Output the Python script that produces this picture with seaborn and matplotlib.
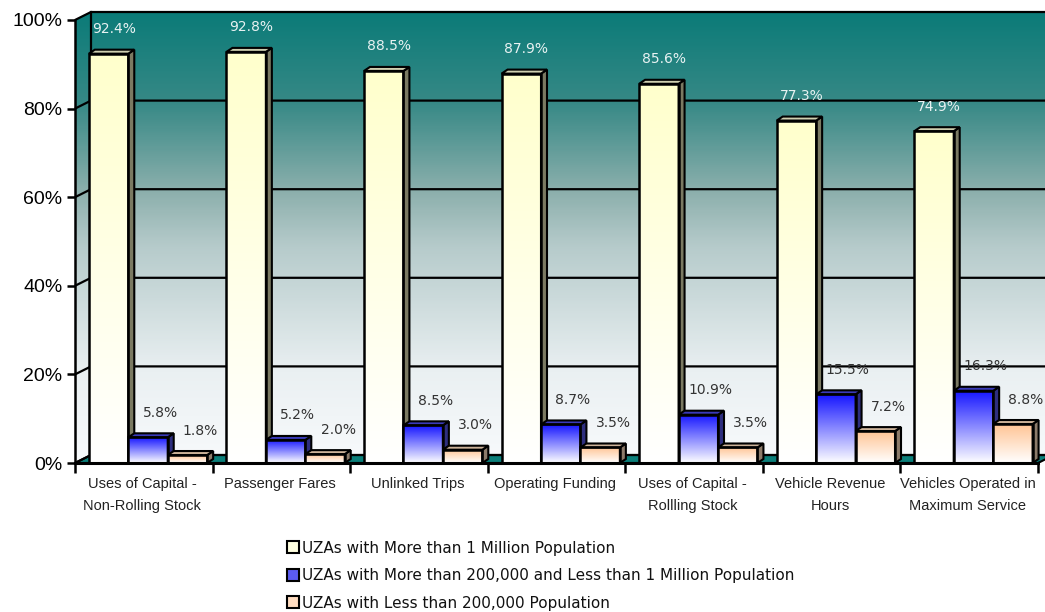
import numpy as np
import pandas as pd
import matplotlib
matplotlib.use("Agg")
import matplotlib.pyplot as plt
import seaborn as sns
from matplotlib.patches import Polygon, Patch
from matplotlib.colors import LinearSegmentedColormap, to_rgba

# ---------------- data ----------------
categories = [
    "Uses of Capital -\nNon-Rolling Stock",
    "Passenger Fares",
    "Unlinked Trips",
    "Operating Funding",
    "Uses of Capital -\nRollling Stock",
    "Vehicle Revenue\nHours",
    "Vehicles Operated in\nMaximum Service",
]
series = [
    "UZAs with More than 1 Million Population",
    "UZAs with More than 200,000 and Less than 1 Million Population",
    "UZAs with Less than 200,000 Population",
]
large_uza = [92.4, 92.8, 88.5, 87.9, 85.6, 77.3, 74.9]
mid_uza = [5.8, 5.2, 8.5, 8.7, 10.9, 15.5, 16.3]
small_uza = [1.8, 2.0, 3.0, 3.5, 3.5, 7.2, 8.8]
y_ticks = [0, 20, 40, 60, 80, 100]
y_tick_labels = ["0%", "20%", "40%", "60%", "80%", "100%"]

values_by_series = [large_uza, mid_uza, small_uza]
rows = []
for s, vals in zip(series, values_by_series):
    for c, v in zip(categories, vals):
        rows.append({"category": c, "series": s, "value": v})
df = pd.DataFrame(rows)

# ---------------- styles ----------------
front_top = ["#FFFFCC", "#1414FF", "#FFC494"]
side_col = ["#7B7A62", "#2E2E7E", "#8C7B6A"]
top_col = ["#CFCFB0", "#3A3AB8", "#CDB39A"]
legend_col = ["#FFFFE0", "#5B5BF0", "#FFDCC0"]
label_col = ["#E8F2F2", "#333333", "#333333"]
label_dx_px = [5, 12, 13]

W, H = 1045, 612
px_x = (1038 - 75) / 7.0
px_y = (463 - 20) / 100.0
X0 = -(148 - 75) / px_x            # left limit (front spine)
XF = X0 + 7                        # front end of x axis
X1 = X0 + (W - 75) / px_x          # right limit (figure edge)
YT = 102.6
top_px = 463 - YT * px_y

dxw, dyw = 16 / px_x, 8 / px_y     # wall depth
dxb, dyb = 6 / px_x, 4 / px_y      # bar depth

fig = plt.figure(figsize=(W / 100, H / 100), dpi=100)
ax = fig.add_axes([75 / W, (H - 463) / H, (W - 75) / W, (463 - top_px) / H])

sns.barplot(data=df, x="category", y="value", hue="series", order=categories,
            hue_order=series, palette=dict(zip(series, front_top)), width=0.86,
            dodge=True, gap=0, legend=False, errorbar=None, saturation=1,
            edgecolor="black", linewidth=1.8, ax=ax)

ax.set_facecolor("none")

# ---------------- walls ----------------
wall_cmap = LinearSegmentedColormap.from_list(
    "wall", [(0, "#0B7B78"), (0.2, "#378986"), (0.4, "#8DB0AD"),
             (0.52, "#B6CBCB"), (0.8, "#EAF0F2"), (1, "#F8FAFC")])
grad = np.linspace(0, 1, 300).reshape(-1, 1)
wall_poly = Polygon([(X0, 0), (X0 + dxw, dyw), (X1 + 1, dyw), (X1 + 1, 100 + dyw),
                     (X0 + dxw, 100 + dyw), (X0, 100)], closed=True,
                    facecolor="none", edgecolor="none", transform=ax.transData)
ax.add_patch(wall_poly)
im = ax.imshow(grad, cmap=wall_cmap, aspect="auto", origin="upper",
               extent=[X0, X1 + 1, 0, 100 + dyw], zorder=0.5, interpolation="bilinear")
im.set_clip_path(wall_poly)

floor = Polygon([(X0, 0), (XF, 0), (XF + dxw, dyw), (X0 + dxw, dyw)], closed=True,
                facecolor="#0B7F7A", edgecolor="black", linewidth=1.5, zorder=1.5)
ax.add_patch(floor)

for v in y_ticks:
    ax.plot([X0, X0 + dxw, X1 + 1], [v, v + dyw, v + dyw], color="black",
            lw=1.6, zorder=2, clip_on=False, solid_capstyle="butt")
ax.plot([X0 + dxw, X0 + dxw], [dyw, 100 + dyw], color="black", lw=1.6, zorder=2)

# ---------------- 3D bars ----------------
for j, cont in enumerate(ax.containers):
    c_top = np.array(to_rgba(front_top[j]))
    for i, bar in enumerate(cont.patches):
        x, w, h = bar.get_x(), bar.get_width(), bar.get_height()
        z = 5 + i * 0.1 + j * 0.02
        t = np.linspace(0, 1, 200).reshape(-1, 1, 1)
        white = np.array([1, 1, 1, 1.0])
        arr = (1 - t) * c_top + t * white
        ax.imshow(arr, aspect="auto", origin="upper", extent=[x, x + w, 0, h],
                  zorder=z, interpolation="bilinear")
        bar.set_facecolor("none")
        bar.set_zorder(z + 0.01)
        side = Polygon([(x + w, 0), (x + w + dxb, dyb), (x + w + dxb, h + dyb), (x + w, h)],
                       closed=True, facecolor=side_col[j], edgecolor="black",
                       linewidth=1.5, zorder=z + 0.005)
        top = Polygon([(x, h), (x + dxb, h + dyb), (x + w + dxb, h + dyb), (x + w, h)],
                      closed=True, facecolor=top_col[j], edgecolor="black",
                      linewidth=1.5, zorder=z + 0.005)
        ax.add_patch(side)
        ax.add_patch(top)
        ax.text(x + w / 2 + label_dx_px[j] / px_x, h + 24.5 / px_y, f"{h:.1f}%",
                ha="center", va="center", fontsize=10, color=label_col[j],
                family="DejaVu Sans", zorder=30)

# ---------------- axes ----------------
ax.set_xlim(X0, X1)
ax.set_ylim(0, YT)
for s in ["top", "right"]:
    ax.spines[s].set_visible(False)
ax.spines["left"].set_bounds(0, 100)
ax.spines["bottom"].set_bounds(X0, XF)
ax.spines["left"].set_linewidth(1.8)
ax.spines["bottom"].set_linewidth(2.2)
ax.spines["left"].set_zorder(3)
ax.spines["bottom"].set_zorder(40)

ax.set_yticks(y_ticks)
ax.set_yticklabels(y_tick_labels, fontsize=14, family="Liberation Sans")
ax.tick_params(axis="y", length=6, width=1.8, pad=3, colors="black")

centers = [X0 + 0.5 + k - 0.01 for k in range(7)]
ax.set_xticks(centers)
ax.set_xticklabels(categories, fontsize=10.5, family="Liberation Sans",
                   linespacing=1.75, color="#222222")
ax.tick_params(axis="x", which="major", length=0, pad=10)
ax.set_xticks([X0 + k for k in range(8)], minor=True)
ax.tick_params(axis="x", which="minor", length=7, width=1.8)
ax.set_xlabel("")
ax.set_ylabel("")

# ---------------- legend ----------------
handles = [Patch(facecolor=c, edgecolor="black", linewidth=1.5) for c in legend_col]
fig.legend(handles, series, loc="upper left", bbox_to_anchor=(287 / W, 1 - 540.5 / H),
           frameon=False, prop={"family": "DejaVu Sans", "size": 11},
           handlelength=0.8, handleheight=0.8, handletextpad=0.15,
           labelspacing=0.82, borderaxespad=0, borderpad=0, labelcolor="#111111")

fig.savefig("out.png", dpi=100)
